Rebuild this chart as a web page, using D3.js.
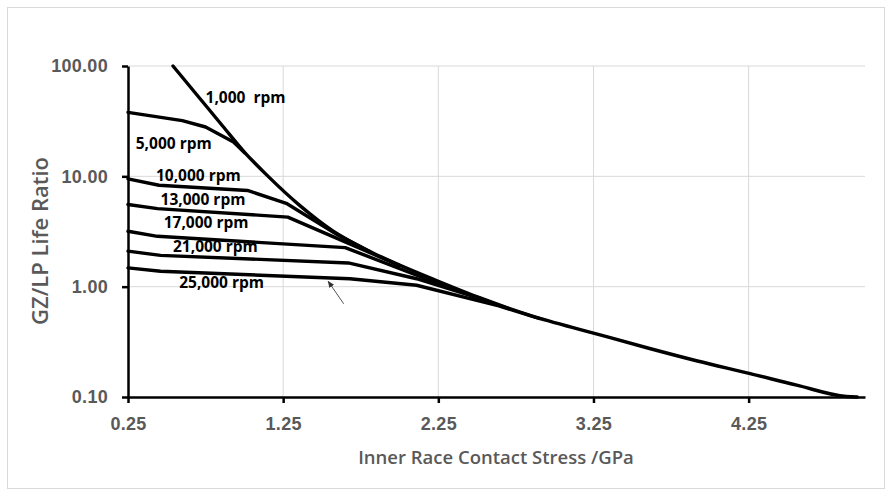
<!DOCTYPE html>
<html>
<head>
<meta charset="utf-8">
<script src="https://cdn.jsdelivr.net/npm/d3@7"></script>
<style>
  body { margin: 0; background: #fff; }
  svg { display: block; font-family: "Open Sans", sans-serif; }
  .grid line { stroke: #d9d9d9; stroke-width: 1; }
  .axis path, .axis line { stroke: #000; stroke-width: 2.5; }
  .axis text { fill: #595959; font-size: 18px; font-weight: 700; letter-spacing: 0.3px; }
  .curve { fill: none; stroke: #000; stroke-width: 3.4; stroke-linejoin: round; stroke-linecap: round; }
  .lbl { font-size: 15.5px; font-weight: 700; fill: #000; white-space: pre; }
  .title { fill: #595959; font-weight: 600; }
</style>
</head>
<body>
<svg id="chart" width="892" height="495"></svg>
<script>
// values (stress in GPa, life ratio)
const xTicks = [0.25, 1.25, 2.25, 3.25, 4.25];
const yTicks = [0.1, 1, 10, 100];

const stress1k = [0.54, 0.70, 0.86, 1.00, 1.15, 1.36, 1.57, 1.79, 2.00, 2.25, 2.52, 2.84, 3.25, 3.60, 3.92, 4.26, 4.56, 4.88, 4.95];
const life1k   = [100, 53.5, 28.6, 16.6, 10.1, 5.4, 3.2, 2.15, 1.57, 1.12, 0.79, 0.55, 0.38, 0.278, 0.212, 0.163, 0.128, 0.101, 0.1];

const stress5k = [0.25, 0.60, 0.75, 0.93, 1.00];
const life5k   = [38, 32, 28, 20.5, 16.4];

const stress10k = [0.25, 0.45, 1.02, 1.27, 1.60, 1.80];
const life10k   = [9.5, 8.3, 7.45, 5.7, 2.95, 2.1];

const stress13k = [0.25, 0.44, 1.28, 1.78, 2.00];
const life13k   = [5.55, 5.1, 4.27, 2.12, 1.55];

const stress17k = [0.25, 0.44, 1.65, 2.24, 2.52];
const life17k   = [3.18, 2.86, 2.26, 1.08, 0.78];

const stress21k = [0.25, 0.46, 1.67, 2.11, 2.45, 2.70];
const life21k   = [2.1, 1.92, 1.64, 1.18, 0.84, 0.635];

const stress25k = [0.25, 0.46, 1.68, 2.11, 2.64, 2.90];
const life25k   = [1.48, 1.38, 1.18, 1.03, 0.67, 0.515];

const speedNames = ["1,000  rpm", "5,000 rpm", "10,000 rpm", "13,000 rpm", "17,000 rpm", "21,000 rpm", "25,000 rpm"];

const svg = d3.select('#chart');
const margin = {top: 66, right: 27, bottom: 98, left: 128};
const width = 892 - margin.left - margin.right;
const height = 495 - margin.top - margin.bottom;

// outer frame
svg.append('rect')
  .attr('x', 7.5).attr('y', 7.5)
  .attr('width', 877).attr('height', 481)
  .attr('fill', '#fff').attr('stroke', '#d9d9d9');

const x = d3.scaleLinear().domain([0.25, 5.0]).range([0, width]);
const y = d3.scaleLog().domain([0.1, 100]).range([height, 0]);

const g = svg.append('g').attr('transform', `translate(${margin.left},${margin.top})`);

// gridlines
g.append('g').attr('class', 'grid')
  .selectAll('line').data(xTicks.slice(1)).enter().append('line')
  .attr('x1', d => x(d)).attr('x2', d => x(d))
  .attr('y1', 0).attr('y2', height);
g.append('g').attr('class', 'grid')
  .selectAll('line').data(yTicks.slice(1)).enter().append('line')
  .attr('x1', 0).attr('x2', width)
  .attr('y1', d => y(d)).attr('y2', d => y(d));

// curves
const series = [
  {stress: stress1k, life: life1k, smooth: true},
  {stress: stress5k, life: life5k},
  {stress: stress10k, life: life10k},
  {stress: stress13k, life: life13k},
  {stress: stress17k, life: life17k},
  {stress: stress21k, life: life21k},
  {stress: stress25k, life: life25k},
];

series.forEach(s => {
  const pts = s.stress.map((v, i) => [v, s.life[i]]);
  const line = d3.line()
    .x(d => x(d[0]))
    .y(d => y(d[1]))
    .curve(s.smooth ? d3.curveMonotoneX : d3.curveLinear);
  g.append('path').attr('class', 'curve').attr('d', line(pts));
});

// axes
const xAxis = d3.axisBottom(x).tickValues(xTicks).tickFormat(d3.format('.2f'))
  .tickSizeInner(6).tickSizeOuter(0).tickPadding(14);
const yAxis = d3.axisLeft(y).tickValues(yTicks).tickFormat(d3.format('.2f'))
  .tickSizeInner(6).tickSizeOuter(0).tickPadding(14);

g.append('g').attr('class', 'axis')
  .attr('transform', `translate(0,${height})`)
  .call(xAxis);
g.append('g').attr('class', 'axis')
  .call(yAxis);
g.selectAll('.axis text').attr('font-family', null).attr('font-size', null);

// curve labels, placed in data space
const labelStress = [0.75, 0.30, 0.43, 0.46, 0.48, 0.54, 0.58];
const labelLife   = [52, 19.8, 10.2, 6.15, 3.8, 2.29, 1.08];

g.selectAll('.lbl').data(speedNames).enter().append('text')
  .attr('class', 'lbl')
  .attr('x', (d, i) => x(labelStress[i]))
  .attr('y', (d, i) => y(labelLife[i]))
  .attr('dy', '0.35em')
  .text(d => d);

// small pointer arrow towards 25,000 rpm curve
svg.append('defs').append('marker')
  .attr('id', 'head').attr('viewBox', '0 0 10 10')
  .attr('refX', 9).attr('refY', 5)
  .attr('markerWidth', 7).attr('markerHeight', 7)
  .attr('orient', 'auto')
  .append('path').attr('d', 'M0,1L10,5L0,9z').attr('fill', '#333');

g.append('line')
  .attr('x1', x(1.64)).attr('y1', y(0.70))
  .attr('x2', x(1.54)).attr('y2', y(1.12))
  .attr('stroke', '#555').attr('stroke-width', 1)
  .attr('marker-end', 'url(#head)');

// axis titles
svg.append('text').attr('class', 'title')
  .attr('x', 496).attr('y', 458)
  .attr('font-size', 18.5)
  .attr('text-anchor', 'middle').attr('dy', '0.35em')
  .text('Inner Race Contact Stress /GPa');

svg.append('text').attr('class', 'title')
  .attr('transform', 'translate(40,241) rotate(-90)')
  .attr('text-anchor', 'middle').attr('dy', '0.35em')
  .attr('font-size', 22).attr('font-weight', 700)
  .text('GZ/LP Life Ratio');
</script>
</body>
</html>
